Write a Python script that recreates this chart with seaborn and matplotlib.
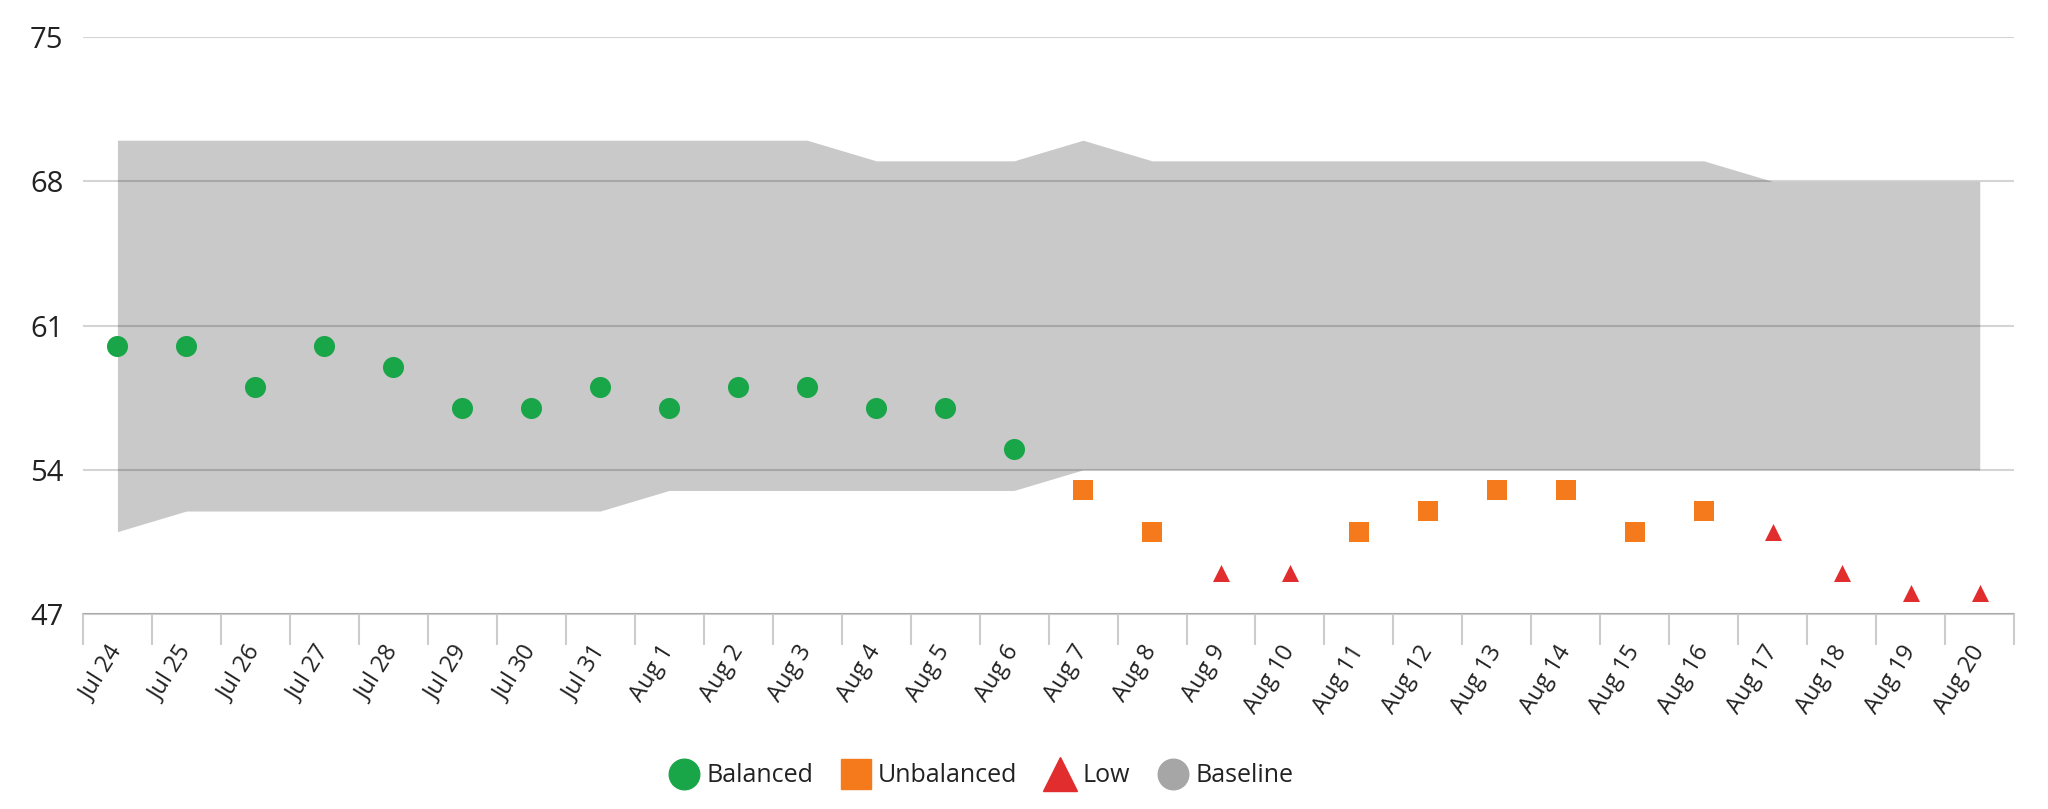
import matplotlib.pyplot as plt
import matplotlib.lines as mlines
import pandas as pd
import seaborn as sns

# Daily readings, Jul 24 - Aug 20
dates = ["Jul 24", "Jul 25", "Jul 26", "Jul 27", "Jul 28", "Jul 29", "Jul 30",
         "Jul 31", "Aug 1", "Aug 2", "Aug 3", "Aug 4", "Aug 5", "Aug 6",
         "Aug 7", "Aug 8", "Aug 9", "Aug 10", "Aug 11", "Aug 12", "Aug 13",
         "Aug 14", "Aug 15", "Aug 16", "Aug 17", "Aug 18", "Aug 19", "Aug 20"]
readings = [60, 60, 58, 60, 59, 57, 57, 58, 57, 58, 58, 57, 57, 55,
            53, 51, 49, 49, 51, 52, 53, 53, 51, 52, 51, 49, 48, 48]
status = ["Balanced", "Balanced", "Balanced", "Balanced", "Balanced", "Balanced",
          "Balanced", "Balanced", "Balanced", "Balanced", "Balanced", "Balanced",
          "Balanced", "Balanced", "Unbalanced", "Unbalanced", "Low", "Low",
          "Unbalanced", "Unbalanced", "Unbalanced", "Unbalanced", "Unbalanced",
          "Unbalanced", "Low", "Low", "Low", "Low"]
baseline_low = [51, 52, 52, 52, 52, 52, 52, 52, 53, 53, 53, 53, 53, 53,
                54, 54, 54, 54, 54, 54, 54, 54, 54, 54, 54, 54, 54, 54]
baseline_high = [70, 70, 70, 70, 70, 70, 70, 70, 70, 70, 70, 69, 69, 69,
                 70, 69, 69, 69, 69, 69, 69, 69, 69, 69, 68, 68, 68, 68]
y_ticks = [47, 54, 61, 68, 75]

colors = {"Balanced": "#19a649", "Unbalanced": "#f47a1c", "Low": "#e12d2d",
          "Baseline": "#a6a6a6"}
markers = {"Balanced": "o", "Unbalanced": "s", "Low": "^"}
sizes = {"Balanced": 230, "Unbalanced": 210, "Low": 150}

sns.set_style("white")
plt.rcParams["font.family"] = ["Open Sans", "DejaVu Sans"]

df = pd.DataFrame({"pos": range(len(dates)), "value": readings, "status": status})

fig = plt.figure(figsize=(20.48, 8.09), dpi=100)
ax = fig.add_axes([0.0405, 0.241, 0.943, 0.713])

# baseline band
ax.fill_between(range(len(dates)), baseline_low, baseline_high,
                color="#c9c9c9", lw=0, zorder=1)

for name in ["Balanced", "Unbalanced", "Low"]:
    sns.scatterplot(data=df[df["status"] == name], x="pos", y="value",
                    color=colors[name], marker=markers[name], s=sizes[name],
                    linewidth=0, ax=ax, zorder=3)

ax.set_xlim(-0.5, len(dates) - 0.5)
ax.set_ylim(47, 75)
ax.set_yticks(y_ticks)
ax.yaxis.grid(True, color="black", alpha=0.17, lw=1.5, zorder=2)
ax.set_axisbelow(False)
ax.set_xticks(range(len(dates)))
ax.set_xticklabels(dates, rotation=58, ha="right", va="center",
                   rotation_mode="anchor", fontsize=17, color="#222222")
ax.set_xticks([i - 0.5 for i in range(len(dates) + 1)], minor=True)
ax.tick_params(axis="x", which="major", length=0, pad=24)
ax.tick_params(axis="x", which="minor", length=22, width=1.5, color="#cccccc",
               direction="out", bottom=True)
ax.tick_params(axis="y", length=0, pad=14, labelsize=21, labelcolor="#222222")
for side in ["top", "right", "left"]:
    ax.spines[side].set_visible(False)
ax.spines["bottom"].set_color("#cccccc")
ax.spines["bottom"].set_linewidth(1.5)
ax.set_xlabel("")
ax.set_ylabel("")

handles = [
    mlines.Line2D([], [], ls="", marker="o", ms=22, color=colors["Balanced"], label="Balanced"),
    mlines.Line2D([], [], ls="", marker="s", ms=22, color=colors["Unbalanced"], label="Unbalanced"),
    mlines.Line2D([], [], ls="", marker="^", ms=24, color=colors["Low"], label="Low"),
    mlines.Line2D([], [], ls="", marker="o", ms=22, color=colors["Baseline"], label="Baseline"),
]
fig.legend(handles=handles, loc="center", bbox_to_anchor=(981 / 2048, 1 - 776 / 809),
           ncol=4, frameon=False, fontsize=18, handletextpad=0.3,
           columnspacing=1.1, handlelength=1.2, labelcolor="#222222")

fig.savefig("out.png", dpi=100)
